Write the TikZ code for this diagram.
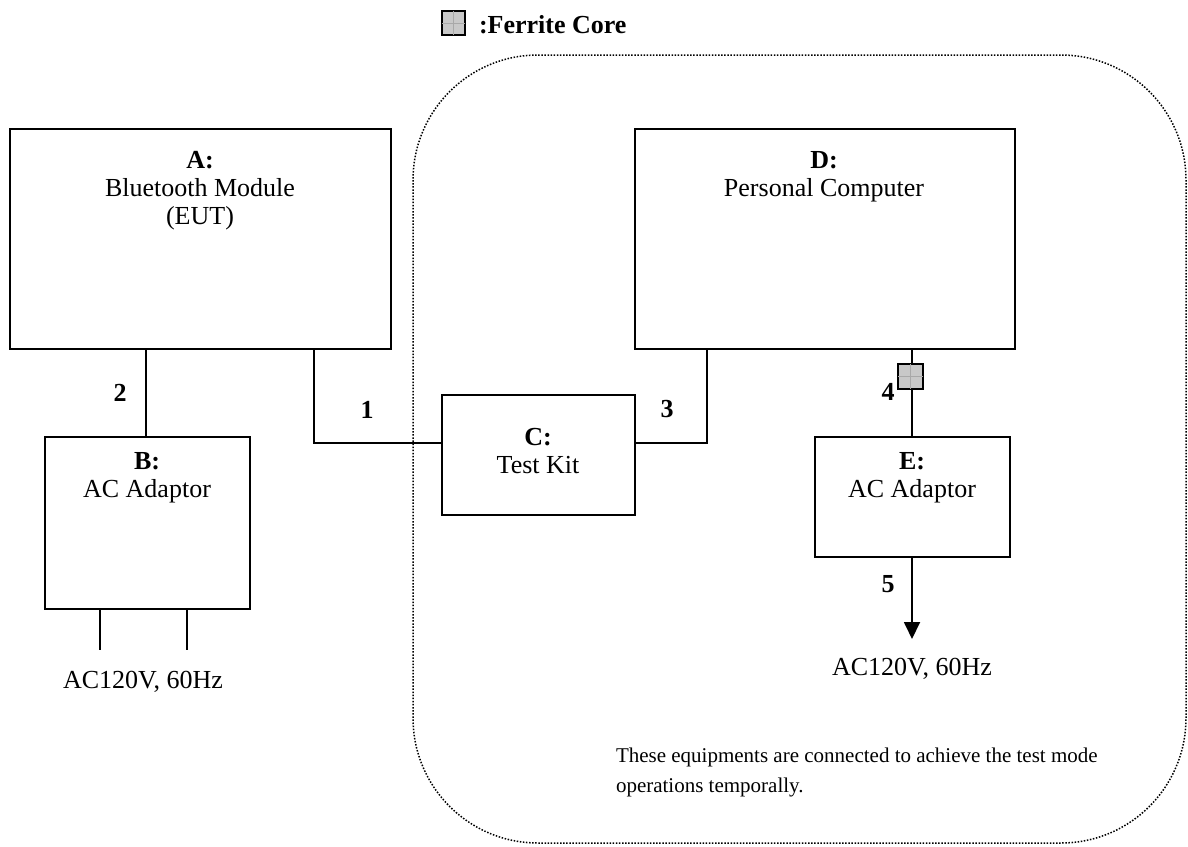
\documentclass[tikz,border=0pt]{standalone}
\usepackage{fontspec}
\setmainfont{Liberation Serif}
\usetikzlibrary{arrows.meta}
\definecolor{ferrite}{HTML}{C8C8C8}
\definecolor{ferritegrid}{HTML}{A8A8A8}
\begin{document}
\begin{tikzpicture}[x=1pt,y=-1pt,
  every node/.style={inner sep=0pt,outer sep=0pt},
  eqbox/.style={draw,line width=1.8pt,rectangle,anchor=north west},
  wire/.style={line width=1.8pt},
  txt/.style={font=\fontsize{26}{30}\selectfont,anchor=base},
  btxt/.style={font=\fontsize{26}{30}\selectfont\bfseries,anchor=base},
  note/.style={font=\fontsize{21}{25}\selectfont,anchor=base west},
  core/.style={draw,line width=1.5pt,fill=ferrite,anchor=north west}
]
\useasboundingbox (0,0) rectangle (1188,846);
% dotted region
\draw[line width=1.5pt,dash pattern=on 1.5pt off 1.6pt,rounded corners=125pt] (413,55) rectangle (1186,843);
% boxes
\node[eqbox,minimum width=381pt,minimum height=220pt] (A) at (10,129) {};
\node[eqbox,minimum width=380pt,minimum height=220pt] (D) at (635,129) {};
\node[eqbox,minimum width=193pt,minimum height=120pt] (C) at (442,395) {};
\node[eqbox,minimum width=195pt,minimum height=120pt] (E) at (815,437) {};
\node[eqbox,minimum width=205pt,minimum height=172pt] (B) at (45,437) {};
% texts
\node[btxt] (At) at (200,168) {A:};
\node[txt] (At2) at (200,196) {Bluetooth Module};
\node[txt] (At3) at (200,224) {(EUT)};
\node[btxt] (Dt) at (824,168) {D:};
\node[txt] (Dt2) at (824,196) {Personal Computer};
\node[btxt] (Ct) at (538,445) {C:};
\node[txt] (Ct2) at (538,473) {Test Kit};
\node[btxt] (Et) at (912,469) {E:};
\node[txt] (Et2) at (912,497) {AC Adaptor};
\node[btxt] (Bt) at (147,469) {B:};
\node[txt] (Bt2) at (147,497) {AC Adaptor};
% coordinates
\coordinate (a2) at (146,349);
\coordinate (b2) at (146,437);
\coordinate (a1) at (314,349);
\coordinate (k1) at (314,443);
\coordinate (c1) at (442,443);
\coordinate (c3) at (635,443);
\coordinate (k3) at (707,443);
\coordinate (d3) at (707,349);
\coordinate (d4) at (912,349);
\coordinate (e4) at (912,437);
\coordinate (e5) at (912,557);
\coordinate (p5) at (912,639);
\coordinate (bl1) at (100,609);
\coordinate (bl1e) at (100,650);
\coordinate (bl2) at (187,609);
\coordinate (bl2e) at (187,650);
% wires
\draw[wire] (a2) -- (b2);
\draw[wire] (a1) -- (k1) -- (c1);
\draw[wire] (c3) -- (k3) -- (d3);
\draw[wire] (d4) -- (e4);
\draw[wire,-{Triangle[length=17pt,width=16pt]}] (e5) -- (p5);
\draw[wire] (bl1) -- (bl1e);
\draw[wire] (bl2) -- (bl2e);
% ferrite core on cable 4
\node[core,minimum width=25pt,minimum height=25pt] (fc) at (898,364) {};
\draw[ferritegrid,line width=0.6pt] (fc.north) -- (fc.south) (fc.west) -- (fc.east);
% cable labels
\node[btxt] (l2) at (120,401) {2};
\node[btxt] (l1) at (367,418) {1};
\node[btxt] (l3) at (667,417) {3};
\node[btxt] (l4) at (888,400) {4};
\node[btxt] (l5) at (888,592) {5};
% power labels
\node[txt] (pwB) at (143,688) {AC120V, 60Hz};
\node[txt] (pwE) at (912,675) {AC120V, 60Hz};
% note
\node[note] (n1) at (616,762) {These equipments are connected to achieve the test mode};
\node[note] (n2) at (616,792) {operations temporally.};
% legend
\node[core,minimum width=23pt,minimum height=24pt] (lg) at (442,11) {};
\draw[ferritegrid,line width=0.6pt] (lg.north) -- (lg.south) (lg.west) -- (lg.east);
\node[btxt,anchor=base west] (lgt) at (479,33) {:Ferrite Core};
\end{tikzpicture}
\end{document}
